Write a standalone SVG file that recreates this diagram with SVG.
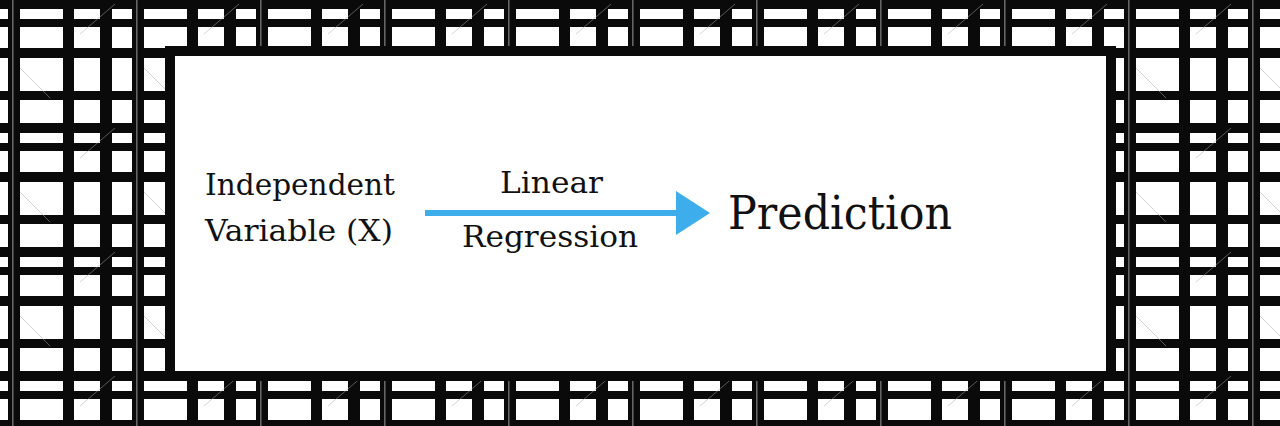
<svg xmlns="http://www.w3.org/2000/svg" width="1280" height="426" viewBox="0 0 1280 426">
  <defs>
    <pattern id="grid" patternUnits="userSpaceOnUse" x="20" y="-66" width="124" height="124">
      <rect width="124" height="124" fill="#ffffff"/>
      <g fill="#0a0a0a">
        <rect x="43" y="0" width="11" height="124"/>
        <rect x="80" y="0" width="12" height="124"/>
        <rect x="112" y="0" width="12" height="124"/>
        <rect x="0" y="33" width="124" height="9"/>
        <rect x="0" y="65" width="124" height="10"/>
        <rect x="0" y="85" width="124" height="8"/>
        <rect x="0" y="114" width="124" height="10"/>
      </g>
      <rect x="116.5" y="0" width="0.8" height="124" fill="#bdbdbd"/>
      <path d="M0 10 L30 40 M60 100 L95 70" stroke="#a8a8a8" stroke-width="1" fill="none" opacity="0.5"/>
    </pattern>
    <style>
      .t { font-family: "DejaVu Serif", "Liberation Serif", serif; fill: #111111; }
      .s { font-size: 30px; }
      .big { font-size: 46px; }
    </style>
  </defs>

  <g id="background">
    <rect x="0" y="0" width="1280" height="426" fill="url(#grid)"/>
  </g>

  <g id="frame">
    <rect x="170" y="51" width="941" height="325" fill="#ffffff" stroke="#0a0a0a" stroke-width="10"/>
  </g>

  <g id="node-input">
    <text class="t s" x="205" y="195" textLength="190" lengthAdjust="spacingAndGlyphs">Independent</text>
    <text class="t s" x="205" y="241" textLength="188" lengthAdjust="spacingAndGlyphs">Variable (X)</text>
  </g>

  <g id="connectors">
    <line x1="425" y1="213" x2="679" y2="213" stroke="#3daeeb" stroke-width="6"/>
    <polygon points="676,191 710,213 676,235" fill="#3daeeb"/>
    <text class="t s" x="500" y="193" textLength="103" lengthAdjust="spacingAndGlyphs">Linear</text>
    <text class="t s" x="462" y="247" textLength="176" lengthAdjust="spacingAndGlyphs">Regression</text>
  </g>

  <g id="node-output">
    <text class="t big" x="728" y="229" textLength="224" lengthAdjust="spacingAndGlyphs">Prediction</text>
  </g>
</svg>
